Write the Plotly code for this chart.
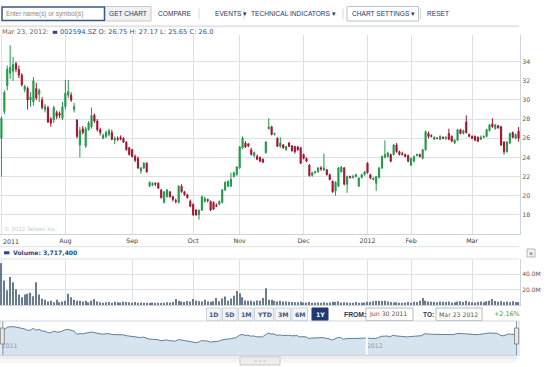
import pandas as pd
import plotly.graph_objects as go

W, H = 550, 367
def X(px): return px / W
def Y(py): return 1 - py / H

# ---------------- data ----------------
holidays = {"2011-09-12", "2011-10-03", "2011-10-04", "2011-10-05", "2011-10-06", "2011-10-07",
            "2012-01-02", "2012-01-03", "2012-01-23", "2012-01-24", "2012-01-25", "2012-01-26", "2012-01-27"}
dates = [d.strftime("%Y-%m-%d") for d in pd.bdate_range("2011-06-30", "2012-03-23")
         if d.strftime("%Y-%m-%d") not in holidays]

opens = [26.0, 28.8, 31.5, 32.8, 33.0, 33.8, 33.2, 32.6, 31.1, 31.2,
         30.0, 29.8, 31.2, 30.6, 30.0, 29.0, 29.2, 28.0, 27.9, 28.7,
         28.6, 28.1, 29.3, 30.5, 30.5, 29.0, 27.9, 25.3, 27.0, 25.2,
         26.9, 27.2, 28.4, 27.8, 26.9, 26.0, 26.2, 26.4, 26.6, 25.8,
         26.0, 26.1, 26.0, 25.6, 25.0, 24.8, 24.1, 23.9, 22.6, 22.9,
         23.4, 21.0, 21.1, 21.3, 21.3, 20.6, 19.3, 19.9, 20.4, 19.9,
         19.5, 19.3, 21.0, 20.4, 20.1, 19.4, 19.1, 18.5, 18.0, 18.5,
         19.4, 19.6, 19.4, 19.3, 19.0, 19.1, 19.3, 20.6, 21.0, 21.0,
         22.0, 22.2, 22.9, 25.0, 25.5, 25.4, 24.8, 24.2, 24.1, 24.0,
         23.8, 24.5, 27.0, 27.2, 26.4, 26.0, 25.15, 25.3, 24.8, 25.5,
         25.2, 25.15, 25.1, 25.0, 24.3, 23.9, 23.2, 22.1, 22.4, 22.5,
         22.9, 22.7, 22.7, 22.2, 21.5, 20.5, 21.0, 22.5, 22.9, 21.2,
         22.0, 21.9, 22.0, 21.0, 21.9, 22.2, 23.4, 22.2, 21.7, 21.3,
         21.9, 22.9, 24.0, 24.1, 24.3, 24.3, 25.3, 24.6, 24.4, 24.3,
         24.2, 23.2, 23.6, 24.2, 24.3, 23.9, 24.8, 26.5, 26.3, 25.9,
         26.0, 25.9, 26.1, 26.0, 26.5, 26.2, 25.5, 25.8, 26.9, 26.5,
         27.7, 26.4, 26.2, 26.2, 26.1, 25.9, 26.1, 26.2, 26.8, 27.5,
         27.0, 27.3, 27.2, 25.6, 24.6, 25.5, 26.6, 26.0, 26.75]
highs = [28.3, 31.0, 33.6, 35.7, 34.5, 34.0, 33.6, 32.8, 31.6, 31.4,
         30.8, 32.4, 31.8, 31.2, 30.3, 29.6, 29.4, 28.2, 29.4, 28.9,
         28.8, 29.8, 32.1, 32.1, 30.8, 29.7, 28.0, 27.2, 27.3, 27.2,
         27.8, 29.2, 28.6, 28.0, 27.1, 26.5, 26.8, 27.0, 26.9, 26.2,
         26.2, 26.3, 26.1, 25.7, 25.1, 24.9, 24.3, 24.1, 23.0, 23.5,
         23.5, 21.5, 21.4, 21.4, 21.4, 20.7, 20.5, 20.7, 20.5, 20.0,
         19.7, 21.1, 21.2, 20.5, 20.2, 19.6, 19.2, 18.6, 18.5, 20.0,
         19.9, 19.7, 19.5, 19.4, 19.2, 19.5, 20.7, 21.5, 21.6, 22.4,
         22.5, 23.1, 25.2, 26.2, 25.7, 25.5, 25.0, 24.6, 24.3, 24.1,
         23.9, 25.7, 28.1, 27.3, 26.6, 26.1, 26.1, 25.4, 25.2, 25.6,
         25.3, 25.2, 25.2, 25.1, 24.4, 24.0, 23.3, 22.5, 22.6, 23.0,
         23.1, 24.4, 22.8, 22.3, 21.6, 21.5, 23.0, 23.1, 23.0, 22.1,
         22.1, 22.2, 22.3, 21.9, 22.3, 22.6, 23.5, 22.3, 21.9, 22.0,
         23.0, 24.2, 25.8, 24.6, 24.4, 25.4, 25.5, 24.7, 24.6, 24.4,
         24.3, 24.0, 24.2, 24.4, 24.4, 24.9, 26.8, 26.7, 26.4, 26.2,
         26.1, 26.3, 26.2, 26.2, 27.0, 26.3, 25.9, 27.0, 27.0, 26.9,
         28.4, 26.5, 26.3, 26.3, 26.2, 26.3, 26.3, 27.0, 27.5, 28.1,
         27.5, 27.4, 27.3, 25.7, 25.7, 26.6, 26.7, 26.5, 27.17]
lows = [22.0, 28.5, 31.0, 32.2, 32.0, 32.9, 32.3, 31.4, 30.8, 29.0,
        29.3, 29.4, 30.0, 29.8, 29.0, 28.7, 27.6, 27.2, 27.6, 28.0,
        28.1, 27.9, 29.0, 30.2, 29.8, 28.7, 26.0, 24.0, 26.4, 25.0,
        26.8, 27.0, 27.6, 26.7, 26.3, 25.9, 26.0, 26.2, 25.8, 25.4,
        25.7, 25.8, 25.5, 24.7, 24.2, 24.0, 23.5, 22.8, 22.3, 22.8,
        22.4, 20.9, 21.0, 21.0, 20.7, 19.7, 19.2, 19.8, 19.8, 19.4,
        19.2, 19.2, 20.3, 20.0, 19.7, 18.8, 17.9, 17.9, 17.5, 18.4,
        19.3, 19.3, 18.4, 18.5, 18.8, 19.0, 19.2, 20.5, 20.9, 20.9,
        21.9, 22.1, 22.8, 24.9, 25.0, 25.1, 24.2, 24.0, 23.7, 23.5,
        23.4, 24.4, 26.9, 26.3, 26.3, 25.1, 25.0, 24.9, 24.7, 25.1,
        24.6, 24.4, 24.7, 23.3, 23.8, 23.5, 22.0, 22.0, 22.3, 22.4,
        22.6, 22.6, 22.1, 21.6, 20.3, 20.0, 20.9, 22.4, 21.1, 20.3,
        21.8, 21.8, 21.9, 20.9, 21.8, 22.1, 22.3, 21.7, 21.6, 20.5,
        21.8, 22.8, 23.9, 24.0, 23.5, 24.2, 24.5, 24.2, 24.2, 24.0,
        23.5, 23.1, 23.5, 24.1, 24.0, 23.8, 24.7, 26.0, 26.1, 25.8,
        25.9, 25.8, 25.9, 25.8, 25.8, 25.6, 25.4, 25.7, 26.4, 26.4,
        26.5, 26.1, 25.9, 25.7, 25.6, 25.8, 26.0, 26.1, 26.7, 27.1,
        26.9, 27.0, 25.2, 24.3, 24.5, 25.4, 26.0, 25.9, 25.65]
closes = [28.1, 30.8, 33.2, 33.4, 33.7, 33.2, 32.6, 31.6, 31.4, 30.0,
          30.3, 32.0, 30.2, 31.0, 29.2, 29.3, 27.7, 27.6, 29.2, 28.3,
          28.4, 29.3, 30.7, 30.9, 30.0, 29.3, 26.2, 26.8, 26.6, 27.0,
          27.6, 28.4, 27.8, 26.9, 26.6, 26.3, 26.6, 26.8, 25.9, 26.0,
          25.9, 25.9, 25.6, 24.8, 24.3, 24.1, 23.7, 22.9, 22.9, 23.4,
          22.5, 21.4, 21.3, 21.2, 20.8, 19.8, 20.4, 20.6, 19.9, 19.6,
          19.4, 21.0, 20.4, 20.1, 19.8, 18.9, 18.0, 18.0, 18.5, 19.9,
          19.7, 19.5, 18.5, 18.6, 18.9, 19.4, 20.6, 21.4, 21.5, 21.7,
          22.4, 23.0, 25.1, 26.0, 25.1, 25.2, 24.3, 24.5, 23.8, 23.6,
          23.5, 25.6, 27.2, 26.4, 26.5, 25.15, 25.5, 25.0, 25.15, 25.15,
          24.7, 24.6, 24.8, 23.4, 23.9, 23.6, 22.1, 22.4, 22.5, 22.9,
          22.8, 22.9, 22.2, 21.7, 20.4, 21.4, 22.9, 23.0, 21.2, 22.0,
          21.9, 22.0, 22.2, 21.85, 22.2, 22.5, 22.4, 21.85, 21.85, 22.0,
          22.9, 24.1, 24.3, 24.45, 23.6, 25.3, 24.6, 24.3, 24.3, 24.1,
          23.6, 23.9, 24.1, 24.3, 24.1, 24.8, 26.7, 26.2, 26.2, 26.1,
          26.0, 26.2, 26.0, 26.1, 25.9, 25.7, 25.8, 26.9, 26.5, 26.8,
          26.6, 26.2, 26.0, 25.8, 25.7, 26.1, 26.2, 26.9, 27.4, 27.2,
          27.4, 27.1, 25.3, 24.6, 25.6, 26.5, 26.1, 26.4, 26.0]
volume_m = [54, 31.7, 19, 36, 29.4, 20.4, 13.6, 10, 13.6, 14.5,
            15.8, 11.3, 29.4, 13.6, 8.1, 6.8, 4.5, 5.4, 3.6, 6.8,
            3.6, 4.5, 5.4, 14.5, 10, 6.8, 5.4, 5.4, 4.5, 5.4,
            3.4, 5.6, 7.6, 4.4, 3.6, 3.0, 3.4, 4.0, 3.0, 4.2,
            3.6, 3.2, 4.2, 4.0, 3.6, 3.0, 4.0, 3.0, 3.2, 2.8,
            3.0, 2.6, 3.2, 2.8, 3.0, 2.6, 3.0, 3.6, 3.2, 4.0,
            7.6, 5.6, 4.4, 4.0, 5.2, 4.4, 7.6, 5.6, 4.8, 4.4,
            6.8, 4.4, 4.2, 4.8, 9.0, 4.8, 8.4, 11, 5.6, 8.4,
            12, 18, 15, 10, 5.8, 5.4, 5.4, 4.5, 5.8, 5.4,
            9, 21.7, 6.8, 6.8, 5.4, 4.6, 5.4, 4.6, 4.6, 4.2,
            4.0, 3.6, 3.6, 4.2, 3.2, 3.0, 4.0, 3.0, 2.8, 3.2,
            3.0, 3.6, 2.8, 3.2, 4.2, 4.0, 4.8, 3.2, 3.6, 3.2,
            2.8, 3.0, 4.0, 3.0, 2.8, 3.2, 4.2, 4.0, 4.8, 5.6,
            5.6, 5.2, 5.6, 4.4, 4.0, 3.2, 3.6, 3.0, 2.8, 3.2,
            4.0, 3.0, 4.2, 4.0, 5.6, 9.0, 5.6, 4.4, 4.2, 4.0,
            3.6, 4.4, 4.2, 4.0, 4.6, 3.2, 3.6, 4.4, 4.8, 4.0,
            5.6, 4.2, 3.6, 3.2, 4.0, 4.4, 3.6, 4.8, 5.6, 7.6,
            5.2, 4.2, 4.8, 4.0, 4.4, 3.6, 4.8, 4.0, 3.7174]

tick_dates = ["2011-06-30", "2011-08-01", "2011-09-01", "2011-10-10", "2011-11-01",
              "2011-12-01", "2012-01-04", "2012-02-01", "2012-03-01"]
tick_labels = ["", "Aug", "Sep", "Oct", "Nov", "Dec", "2012", "Feb", "Mar"]
first_year_label = "2011"
price_ticks = [18, 20, 22, 24, 26, 28, 30, 32, 34]
vol_ticks = [20, 40]
vol_tick_labels = ["20.0M", "40.0M"]
nav_tick_dates = ["2011-06-30", "2012-01-04"]
nav_tick_labels = ["2011", "2012"]
range_buttons = ["1D", "5D", "1M", "YTD", "3M", "6M", "1Y"]

GREEN = "#22994a"
RED = "#a5122f"
NAVY = "#22386b"
GRID = "#dde1e6"
AXLINE = "#cfd4da"
FONT = "DejaVu Sans"
ARIAL = "Liberation Sans"

fig = go.Figure()
fig.add_trace(go.Candlestick(
    x=dates, open=opens, high=highs, low=lows, close=closes,
    increasing=dict(line=dict(color=GREEN, width=1), fillcolor=GREEN),
    decreasing=dict(line=dict(color=RED, width=1), fillcolor=RED),
    whiskerwidth=0, xaxis="x", yaxis="y", showlegend=False, hoverinfo="skip"))
fig.add_trace(go.Bar(
    x=dates, y=volume_m, marker=dict(color="#6a7c92", line=dict(width=0)),
    width=0.42, xaxis="x2", yaxis="y2", showlegend=False, hoverinfo="skip"))
fig.add_trace(go.Scatter(
    x=dates, y=closes, mode="lines", line=dict(color="#5f7e9f", width=1),
    fill="tozeroy", fillcolor="#d6e4f0", xaxis="x3", yaxis="y3",
    showlegend=False, hoverinfo="skip"))

n = len(dates)
xr = [-0.5, n - 0.5]
tickfont = dict(family=FONT, size=6.3, color="#3c3c3c")

fig.update_layout(
    width=W, height=H, margin=dict(l=0, r=0, t=0, b=0, pad=0, autoexpand=False),
    paper_bgcolor="white", plot_bgcolor="white",
    boxgap=0.45,
    xaxis=dict(domain=[0, X(520)], anchor="y", type="category", range=xr, automargin=False,
               tickmode="array", tickvals=tick_dates, ticktext=tick_labels,
               showgrid=True, gridcolor=GRID, gridwidth=1, showline=True, linecolor=AXLINE,
               ticks="", tickfont=tickfont, rangeslider=dict(visible=False), fixedrange=True),
    yaxis=dict(domain=[Y(234), Y(35)], anchor="x", range=[16.0, 36.79], side="right",
               automargin=False,
               tickmode="array", tickvals=price_ticks, showgrid=True, gridcolor=GRID,
               showline=True, linecolor=AXLINE, ticks="", zeroline=False,
               tickfont=dict(family=FONT, size=6.3, color="#555555"), fixedrange=True),
    xaxis2=dict(domain=[0, X(520)], anchor="y2", type="category", range=xr, automargin=False,
                tickmode="array", tickvals=tick_dates, showticklabels=False,
                showgrid=True, gridcolor=GRID, showline=True, linecolor=AXLINE, ticks="",
                fixedrange=True),
    yaxis2=dict(domain=[Y(305), Y(259)], anchor="x2", range=[0, 59.35], side="right",
                automargin=False,
                tickmode="array", tickvals=vol_ticks, ticktext=vol_tick_labels,
                showgrid=True, gridcolor=GRID, showline=True, linecolor=AXLINE, ticks="",
                zeroline=False, tickfont=dict(family=FONT, size=6, color="#555555"),
                fixedrange=True),
    xaxis3=dict(domain=[0, X(519)], anchor="y3", type="category", range=xr, automargin=False,
                tickmode="array", tickvals=nav_tick_dates, ticktext=nav_tick_labels,
                ticklabelposition="inside right", showgrid=False, showline=False, ticks="",
                tickfont=dict(family=FONT, size=6.3, color="#8b97a5"), fixedrange=True),
    yaxis3=dict(domain=[Y(355), Y(321)], anchor="x3", range=[5.8, 39.2], automargin=False,
                visible=False, fixedrange=True),
)

shapes = []
ann = []

def rect(x0, y0, x1, y1, fill=None, line=None, lw=1):
    shapes.append(dict(type="rect", xref="paper", yref="paper", x0=X(x0), x1=X(x1),
                       y0=Y(y1), y1=Y(y0), fillcolor=fill or "rgba(0,0,0,0)",
                       line=dict(color=line or "rgba(0,0,0,0)", width=lw if line else 0),
                       layer="above"))

def hline(x0, x1, y, color, w=1):
    shapes.append(dict(type="line", xref="paper", yref="paper", x0=X(x0), x1=X(x1),
                       y0=Y(y), y1=Y(y), line=dict(color=color, width=w), layer="above"))

def vline(x, y0, y1, color, w=1):
    shapes.append(dict(type="line", xref="paper", yref="paper", x0=X(x), x1=X(x),
                       y0=Y(y0), y1=Y(y1), line=dict(color=color, width=w), layer="above"))

def text(x, y, s, size=6.7, color=NAVY, family=ARIAL, anchor="left", bold=False):
    if bold:
        s = "<b>" + s + "</b>"
    ann.append(dict(xref="paper", yref="paper", x=X(x), y=Y(y), text=s, showarrow=False,
                    xanchor=anchor, yanchor="middle", borderpad=0,
                    font=dict(family=family, size=size, color=color)))

# ---- toolbar ----
rect(2, 7, 104.5, 20.5, fill="white", line="#3b5788", lw=1.5)
text(4.5, 13.8, "Enter name(s) or symbol(s)", size=6.4, color="#8a8a8a")
rect(105.5, 6.5, 151, 21, fill="#f2f2f2", line="#c9c9c9")
text(128.2, 13.8, "GET CHART", size=6.6, anchor="center")
text(157, 13.8, "COMPARE", size=6.6)
for sx in [199, 244, 343, 420.5]:
    vline(sx, 8.5, 19.5, "#d8d8d8")
text(214, 13.8, "EVENTS \u25be", size=6.6)
text(250, 13.8, "TECHNICAL INDICATORS \u25be", size=6.6)
rect(347, 6.5, 418.5, 21, fill="white", line="#b8c4d8")
text(351, 13.8, "CHART SETTINGS \u25be", size=6.6)
text(426, 13.8, "RESET", size=6.6)
hline(0, 519, 26.3, "#e4e4e4", 2)

# ---- header ----
text(0.7, 32.3, "Mar 23, 2012:", size=6.7, color="#6a6a6a", family=FONT)
rect(52.7, 30.8, 57.3, 33.8, fill="#2c4a85")
text(59.3, 32.3, "002594.SZ O: 26.75 H: 27.17 L: 25.65 C: 26.0", size=6.7,
     color="#34507f", family=FONT)
text(3, 228.7, "\u00a9 2012 Yahoo! Inc.", size=5.5, color="#c8c8c8", family=FONT)
# first x-axis label, left-aligned at the chart edge as in the original
text(2, 241.3, first_year_label, size=6.3, color="#3c3c3c", family=FONT)

# ---- x label separator & volume header ----
hline(0, 519, 246.7, "#e2e2e2", 1)
rect(4, 251.3, 9.5, 254.3, fill="#2c4a85")
text(11.5, 252.8, "Volume: 3,717,400", size=6.1, color="#2c4a85", family=FONT, bold=True)
rect(527, 249, 535, 257, fill="#f4f4f4", line="#b5b5b5")
text(531, 253, "\u00d7", size=7, color="#555555", anchor="center")
hline(0, 519, 259, "#e2e2e2", 1)

# ---- range buttons ----
btn_x = [(206.5, 221), (222.5, 237), (238.5, 253), (254.5, 273.5), (275, 290.5), (292, 307.5), (312, 328)]
for lab, (a, b) in zip(range_buttons, btn_x):
    sel = lab == "1Y"
    rect(a, 308, b, 320.5, fill="#1f3a72" if sel else "#f5f5f5", line="#1f3a72" if sel else "#cdd3dc")
    text((a + b) / 2, 314.3, lab, size=6.2, color="white" if sel else "#3d5585",
         family=FONT, anchor="center", bold=True)
text(343, 314.3, "FROM:", size=6.8, color=NAVY, family=ARIAL, bold=True)
rect(366, 308, 413, 320.5, fill="white", line="#b9b9b9")
text(368, 314.3, "Jun 30 2011", size=6.2, color="#555555", family=FONT)
text(422, 314.3, "TO:", size=6.6, color=NAVY, family=ARIAL, bold=True)
rect(436, 308, 482, 320.5, fill="white", line="#b9b9b9")
text(438, 314.3, "Mar 23 2012", size=6.2, color="#555555", family=FONT)
text(493, 314.3, "+2.16%", size=6.4, color="#3f9a3c", family=FONT)

# ---- navigator decorations ----
shapes.append(dict(type="line", xref="x3", yref="y3 domain", x0="2012-01-04", x1="2012-01-04",
                   y0=0, y1=1, line=dict(color="white", width=2), layer="above"))
rect(0, 321, 519, 355.3, line="#cfd6de")
vline(2.8, 321.5, 355, "#7f95ad", 1)
vline(516.5, 321.5, 355, "#7f95ad", 1)
rect(0.3, 328, 4.3, 344, fill="#e9e9e9", line="#8a8a8a")
rect(514.5, 328, 518.7, 344, fill="#e9e9e9", line="#8a8a8a")
rect(0, 355.5, 517, 359, fill="rgba(0,0,0,0.07)")
rect(0, 359, 517, 363, fill="rgba(0,0,0,0.035)")
rect(240, 357, 280, 365, fill="#eeeeee", line="#c8c8c8")
text(260, 360.8, "= = =", size=4, color="#a0a0a0", family=FONT, anchor="center")

fig.update_layout(shapes=shapes, annotations=ann)
page_fix = ("document.documentElement.style.margin='0px';"
            "document.body.style.margin='0px';document.body.style.padding='0px';"
            "document.body.style.overflow='hidden';"
            "var d=document.getElementById('{plot_id}');"
            "d.style.position='absolute';d.style.left='0px';d.style.top='0px';")
fig.write_html("out.html", config={"displayModeBar": False}, post_script=page_fix)
